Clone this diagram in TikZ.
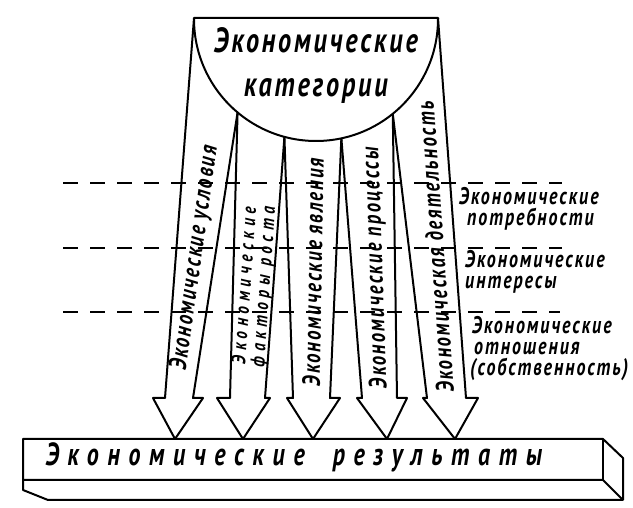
\documentclass[tikz,border=0pt]{standalone}
\usepackage{fontspec}
\setmainfont{PT Sans}
\newfontfamily\hand{PT Sans}[FakeStretch=0.75, LetterSpace=8]
\usepackage{tikz}
\tikzstyle{contour} = [line width=2pt, 
line join=round]
\tikzstyle{level} = [line width=2.2pt, 
dash pattern=on 15pt off 12pt]
\tikzstyle{heading} = [inner sep=0pt, 
align=center, 
font=\hand\bfseries\itshape\fontsize{35}{44}\selectfont]
\tikzstyle{arrowtext} = [inner sep=0pt, 
font=\hand\bfseries\itshape\fontsize{25}{27}\selectfont]
\tikzstyle{sidenote} = [inner sep=0pt, 
anchor=west, 
align=left, 
font=\hand\bfseries\itshape\fontsize{24}{21}\selectfont]
\tikzstyle{bartext} = [inner sep=0pt, 
font=\hand\bfseries\itshape\fontsize{32}{34}\selectfont\addfontfeature{LetterSpace=27}]

\begin{document}
\begin{tikzpicture}[x=1pt, y=1pt]
  \useasboundingbox (0,0) rectangle (633,508);

  % levels
  \draw [level] (63,325) -- (562,325);
  \draw [level] (63,260) -- (562,260);
  \draw [level] (63,196) -- (560,196);

  % categories
  \coordinate (c) at (316,489);
  \draw [contour] (194,490) -- (438,490) -- (438,489) arc[start angle=0, end angle=-180, radius=122pt] -- cycle;
  \node (cat) [heading] at (316,442) {Экономические\\категории};

  \coordinate (k0) at (194,490);
  \path (c) ++(-130:122pt) coordinate (k1);
  \path (c) ++(-105:122pt) coordinate (k2);
  \path (c) ++(-78:122pt) coordinate (k3);
  \path (c) ++(-51:122pt) coordinate (k4);
  \coordinate (k5) at (438,490);

  % results
  \draw [contour] (23,69) -- (603,69) -- (623,50) -- (623,8) -- (48,8) -- (23,18) -- cycle;
  \draw [contour] (23,28) -- (603,28) -- (623,8);
  \draw [contour] (603,69) -- (603,28);
  \node (res) [bartext] at (294,51) {Экономические\hspace{28pt}результаты};

  \coordinate (t1) at (175,69);
  \coordinate (t2) at (243,69);
  \coordinate (t3) at (313,69);
  \coordinate (t4) at (387,69);
  \coordinate (t5) at (455,69);

  % arrows
  \draw [contour] (k0) -- (165,110) -- (153,110) -- (t1) -- (203,110) -- (193,110) -- (k1);
  \draw [contour] (k1) -- (230,110) -- (217,110) -- (t2) -- (270,110) -- (265,110) -- (k2);
  \draw [contour] (k2) -- (293,110) -- (287,110) -- (t3) -- (340,110) -- (330,110) -- (k3);
  \draw [contour] (k3) -- (362,110) -- (357,110) -- (t4) -- (407,110) -- (397,110) -- (k4);
  \draw [contour] (k4) -- (427,110) -- (423,110) -- (t5) -- (478,110) -- (466,110) -- (k5);

  \node (cond) [arrowtext, rotate=82] at (195,250) {Экономические условия};
  \node (fact) [arrowtext, rotate=86, align=center, font=\hand\bfseries\itshape\fontsize{20}{19}\selectfont\addfontfeature{LetterSpace=25}] at (255,222) {Экономические\\факторы роста};
  \node (phen) [arrowtext, rotate=89] at (313,236) {Экономические явления};
  \node (proc) [arrowtext, rotate=92] at (376,240) {Экономические процессы};
  \node (act) [arrowtext, rotate=94] at (435,261) {Экономическая деятельность};

  % right notes
  \node (need) [sidenote] at (459,299) {Экономические\\\hspace{8pt}потребности};
  \node (inter) [sidenote] at (465,236) {Экономические\\интересы};
  \node (rel) [sidenote] at (470,159) {\hspace{2pt}Экономические\\\hspace{4pt}отношения\\(собственность)};
\end{tikzpicture}
\end{document}
